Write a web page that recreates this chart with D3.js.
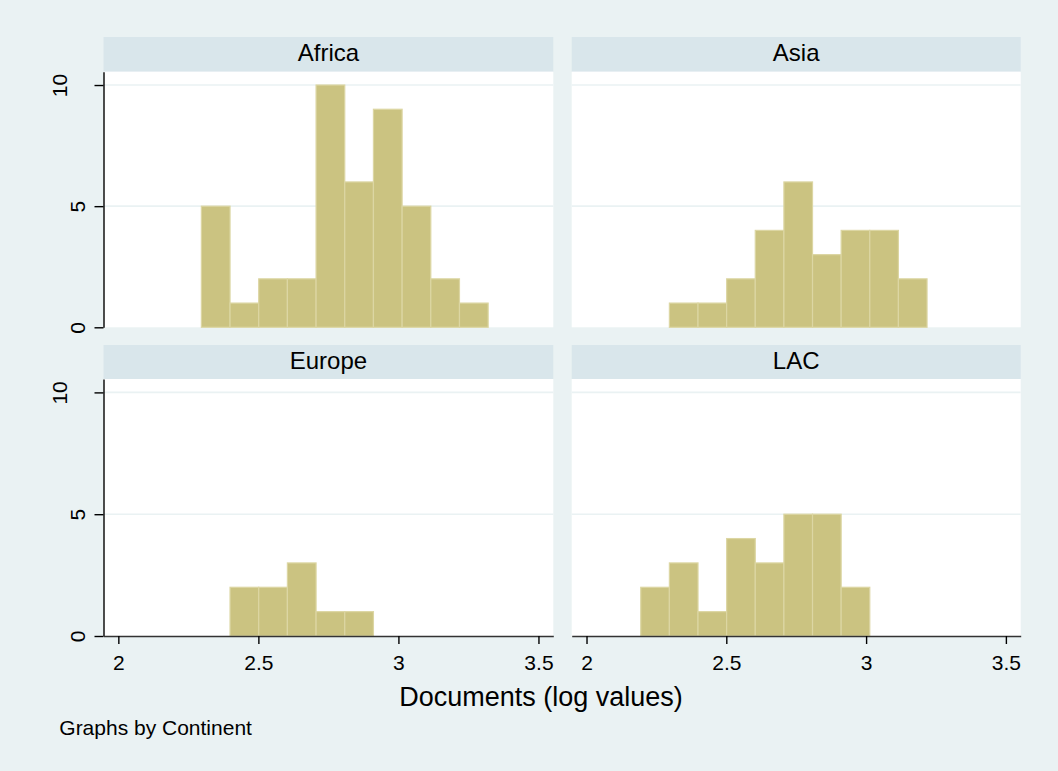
<!DOCTYPE html>
<html>
<head>
<meta charset="utf-8">
<script src="https://cdn.jsdelivr.net/npm/d3@7"></script>
<style>
  body { margin: 0; background: #eaf2f3; }
  svg { display: block; font-family: "Liberation Sans", Arial, sans-serif; }
</style>
</head>
<body>
<svg id="chart" width="1058" height="771"></svg>
<script>
// Histogram bins are shared by all panels (Stata: same start and width)
const binStart = 2.194
const binWidth = 0.1024

const continents = ["Africa", "Asia", "Europe", "LAC"]
const africaCounts = [0, 5, 1, 2, 2, 10, 6, 9, 5, 2, 1]
const asiaCounts = [0, 1, 1, 2, 4, 6, 3, 4, 4, 2]
const europeCounts = [0, 0, 2, 2, 3, 1, 1]
const lacCounts = [2, 3, 1, 4, 3, 5, 5, 2]
const counts = [africaCounts, asiaCounts, europeCounts, lacCounts]

const xTicks = [2, 2.5, 3, 3.5]
const yTicks = [0, 5, 10]
const xTitle = "Documents (log values)"
const note = "Graphs by Continent"

const svg = d3.select("#chart")
const bg = "#eaf2f3"
const stripColor = "#d9e6eb"
const barFill = "#cbc381"
const barLine = "#dcd6a3"

svg.append("rect").attr("width", 1058).attr("height", 771).attr("fill", bg)

// panel grid
const cols = [[103.5, 553.3], [571.7, 1020.7]]
const rows = [{ strip: 37, top: 71.7, bottom: 327.3 }, { strip: 345, top: 379, bottom: 636 }]

continents.forEach((name, i) => {
  const col = cols[i % 2]
  const row = rows[Math.floor(i / 2)]
  const isLeft = i % 2 === 0
  const isBottom = i >= 2

  const x = d3.scaleLinear().domain([1.947, 3.553]).range(col)
  const y = d3.scaleLinear().domain([0, 10.55]).range([row.bottom, row.top])

  const g = svg.append("g").attr("class", "panel")

  // strip title
  g.append("rect")
    .attr("x", col[0]).attr("y", row.strip)
    .attr("width", col[1] - col[0]).attr("height", row.top - row.strip)
    .attr("fill", stripColor)
  g.append("text")
    .attr("x", (col[0] + col[1]) / 2).attr("y", row.strip + 24)
    .attr("text-anchor", "middle")
    .attr("font-size", 24)
    .attr("fill", "#000")
    .text(name)

  // plot area
  g.append("rect")
    .attr("x", col[0]).attr("y", row.top)
    .attr("width", col[1] - col[0]).attr("height", row.bottom - row.top)
    .attr("fill", "#fff")

  // gridlines
  g.selectAll(".grid").data(yTicks.filter(d => d > 0)).enter()
    .append("line")
    .attr("class", "grid")
    .attr("x1", col[0]).attr("x2", col[1])
    .attr("y1", d => y(d)).attr("y2", d => y(d))
    .attr("stroke", bg).attr("stroke-width", 1.6)

  // bars
  const bins = counts[i].map((c, k) => ({ x0: binStart + k * binWidth, x1: binStart + (k + 1) * binWidth, n: c }))
    .filter(b => b.n > 0)
  g.selectAll(".bar").data(bins).enter()
    .append("rect")
    .attr("class", "bar")
    .attr("x", d => x(d.x0))
    .attr("width", d => x(d.x1) - x(d.x0))
    .attr("y", d => y(d.n))
    .attr("height", d => y(0) - y(d.n))
    .attr("fill", barFill)
    .attr("stroke", barLine)
    .attr("stroke-width", 1.2)

  // y axis only on the left column
  if (isLeft) {
    const ya = g.append("g")
      .attr("transform", `translate(${col[0]},0)`)
      .call(d3.axisLeft(y).tickValues(yTicks).tickSize(9).tickSizeOuter(0).tickFormat(d3.format("d")))
    ya.select(".domain").attr("stroke", "#000").attr("stroke-width", 1.4)
    ya.selectAll(".tick line").attr("stroke", "#000").attr("stroke-width", 1.4)
    // Stata pushes the two-digit label further out
    ya.selectAll(".tick text")
      .attr("x", null).attr("dy", null)
      .attr("text-anchor", "middle")
      .attr("font-size", 21)
      .attr("fill", "#000")
      .attr("transform", d => `translate(${-18.5 - (String(d).length - 1) * 18.3},0) rotate(-90)`)
  }

  // x axis only on the bottom row
  if (isBottom) {
    const xa = g.append("g")
      .attr("transform", `translate(0,${row.bottom})`)
      .call(d3.axisBottom(x).tickValues(xTicks).tickSize(8).tickSizeOuter(0).tickFormat(d => String(d)))
    xa.select(".domain").attr("stroke", "#333").attr("stroke-width", 1.4)
    xa.selectAll(".tick line").attr("stroke", "#000").attr("stroke-width", 1.4)
    xa.selectAll(".tick text")
      .attr("y", 34).attr("dy", null)
      .attr("font-size", 21)
      .attr("fill", "#000")
  }
  svg.selectAll(".domain").attr("fill", "none")
})

svg.append("text")
  .attr("x", 541).attr("y", 706)
  .attr("text-anchor", "middle")
  .attr("font-size", 27)
  .attr("fill", "#000")
  .text(xTitle)

svg.append("text")
  .attr("x", 59.3).attr("y", 735)
  .attr("font-size", 21)
  .attr("fill", "#000")
  .text(note)
</script>
</body>
</html>
